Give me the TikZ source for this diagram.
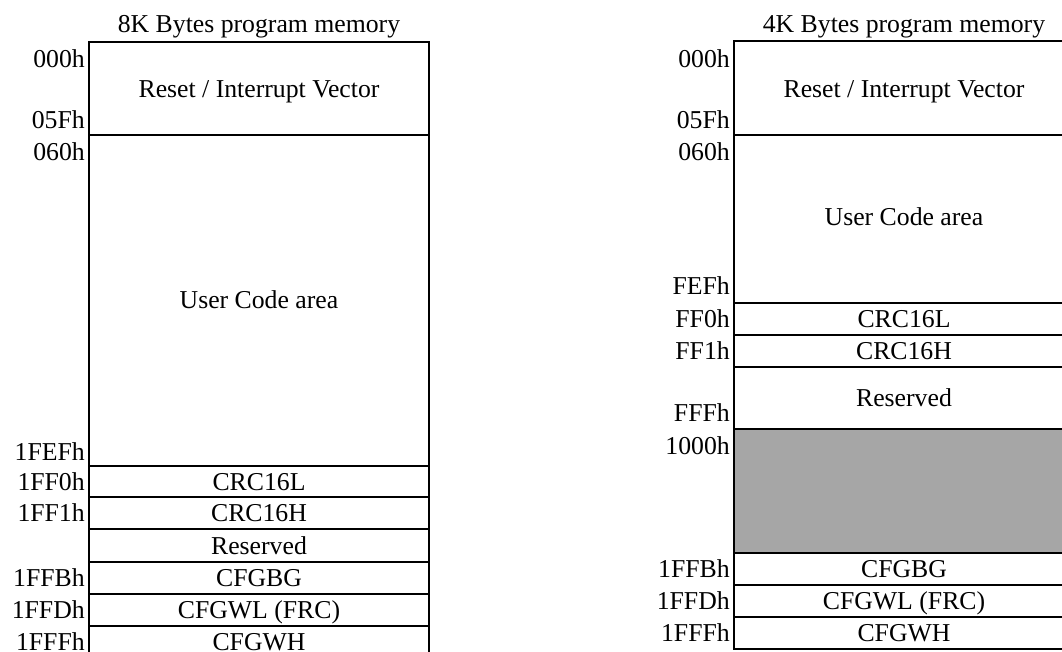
\documentclass[tikz,border=0pt]{standalone}
\usepackage{fontspec}
\setmainfont{Liberation Serif}
\definecolor{memgray}{RGB}{166,166,166}

\begin{document}
\begin{tikzpicture}[x=0.75pt,y=-0.75pt,font=\fontsize{19.3pt}{23pt}\selectfont,
  box/.style={line width=1.5pt},
  txt/.style={inner sep=0pt,anchor=base},
  addr/.style={inner sep=0pt,anchor=base east}]
\clip (0,0) rectangle (1062,651);

% 8K memory
\node[txt] (title8) at (259,32) {8K Bytes program memory};
\draw [box](89,42) rectangle (429,660);
\draw [box](89,135)--(429,135);
\draw [box](89,466)--(429,466);
\draw [box](89,497)--(429,497);
\draw [box](89,529)--(429,529);
\draw [box](89,562)--(429,562);
\draw [box](89,594)--(429,594);
\draw [box](89,626)--(429,626);

\node[txt] (rst8) at (259,97) {Reset / Interrupt Vector};
\node[txt] (user8) at (259,308.5) {User Code area};
\node[txt] (crcl8) at (259,490) {CRC16L};
\node[txt] (crch8) at (259,521.5) {CRC16H};
\node[txt] (res8) at (259,554) {Reserved};
\node[txt] (cfgbg8) at (259,586.5) {CFGBG};
\node[txt] (cfgwl8) at (259,618.5) {CFGWL (FRC)};
\node[txt] (cfgwh8) at (259,650.5) {CFGWH};

\node[addr] (a000) at (85,67) {000h};
\node[addr] (a05f) at (85,128.5) {05Fh};
\node[addr] (a060) at (85,160) {060h};
\node[addr] (a1fef) at (85,460.5) {1FEFh};
\node[addr] (a1ff0) at (85,490) {1FF0h};
\node[addr] (a1ff1) at (85,521.5) {1FF1h};
\node[addr] (a1ffb) at (85,586.5) {1FFBh};
\node[addr] (a1ffd) at (85,618.5) {1FFDh};
\node[addr] (a1fff) at (85,650.5) {1FFFh};

% 4K memory
\node[txt] (title4) at (904,32.5) {4K Bytes program memory};
\fill [memgray](734,429) rectangle (1074,553);
\draw [box](734,41) rectangle (1074,649);
\draw [box](734,135)--(1074,135);
\draw [box](734,303)--(1074,303);
\draw [box](734,335)--(1074,335);
\draw [box](734,367)--(1074,367);
\draw [box](734,429)--(1074,429);
\draw [box](734,553)--(1074,553);
\draw [box](734,585)--(1074,585);
\draw [box](734,617)--(1074,617);

\node[txt] (rst4) at (904,97) {Reset / Interrupt Vector};
\node[txt] (user4) at (904,225.5) {User Code area};
\node[txt] (crcl4) at (904,327.5) {CRC16L};
\node[txt] (crch4) at (904,359.5) {CRC16H};
\node[txt] (res4) at (904,406.5) {Reserved};
\node[txt] (cfgbg4) at (904,577.5) {CFGBG};
\node[txt] (cfgwl4) at (904,609.5) {CFGWL (FRC)};
\node[txt] (cfgwh4) at (904,641.5) {CFGWH};

\node[addr] (b000) at (730,67.5) {000h};
\node[addr] (b05f) at (730,128.5) {05Fh};
\node[addr] (b060) at (730,160.5) {060h};
\node[addr] (bfef) at (730,294.5) {FEFh};
\node[addr] (bff0) at (730,327.5) {FF0h};
\node[addr] (bff1) at (730,359.5) {FF1h};
\node[addr] (bfff) at (730,421.5) {FFFh};
\node[addr] (b1000) at (730,454.5) {1000h};
\node[addr] (b1ffb) at (730,577.5) {1FFBh};
\node[addr] (b1ffd) at (730,609.5) {1FFDh};
\node[addr] (b1fff) at (730,641.5) {1FFFh};
\end{tikzpicture}
\end{document}
